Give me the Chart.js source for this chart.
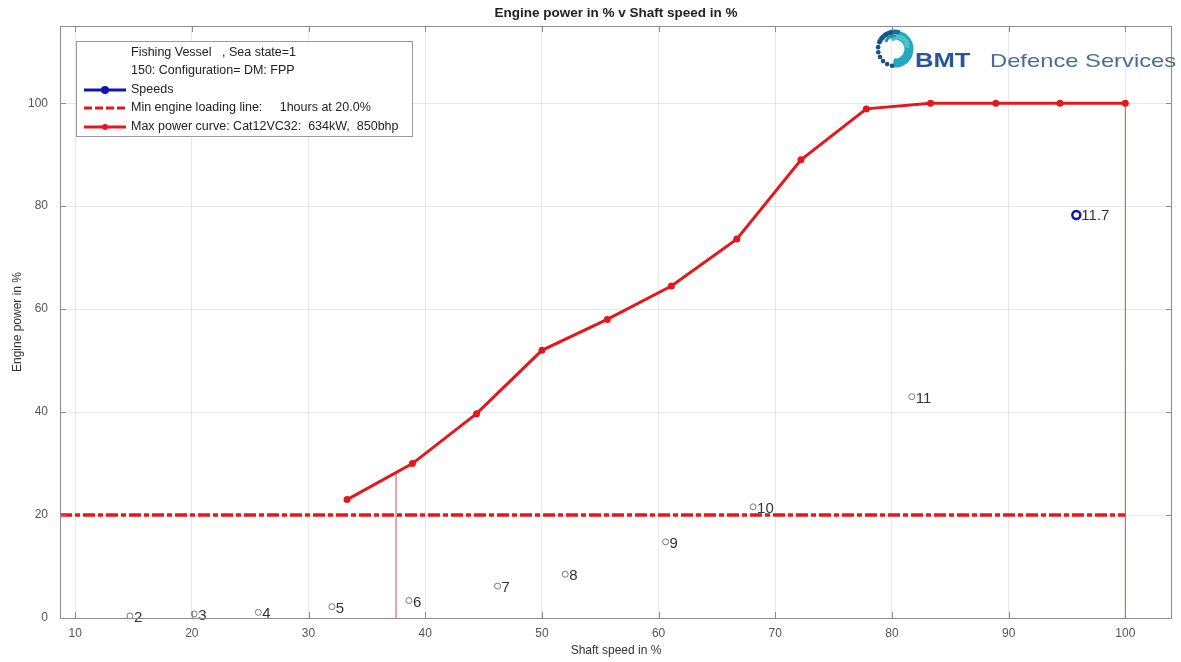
<!DOCTYPE html>
<html>
<head>
<meta charset="utf-8">
<script src="https://cdn.jsdelivr.net/npm/chart.js@4/dist/chart.umd.min.js"></script>
<style>
  body { margin: 0; background: #fff; }
  #chartBox { width: 1181px; height: 662px; }
</style>
</head>
<body>
<div id="chartBox"><canvas id="powerChart" width="1181" height="662"></canvas></div>
<script>
// axis ticks
const xTicks = [10, 20, 30, 40, 50, 60, 70, 80, 90, 100]
const yTicks = [0, 20, 40, 60, 80, 100]

// max power curve (Cat12VC32)
const curveX = [33.3, 38.9, 44.4, 50.0, 55.6, 61.1, 66.7, 72.2, 77.8, 83.3, 88.9, 94.4, 100]
const curveY = [23.0, 30.0, 39.7, 52.0, 58.0, 64.5, 73.6, 89.0, 98.9, 100, 100, 100, 100]

// min engine loading line
const minLineX = [8.7, 100]
const minLineY = [20, 20]

// vertical markers
const vLine1X = [37.5, 37.5]
const vLine1Y = [0, 28.3]
const vLine2X = [100, 100]
const vLine2Y = [0, 100]

// speed points (knots)
const speedLabels = ['2', '3', '4', '5', '6', '7', '8', '9', '10', '11']
const speedX = [14.7, 20.2, 25.7, 32.0, 38.6, 46.2, 52.0, 60.6, 68.1, 81.7]
const speedY = [0.4, 0.8, 1.1, 2.2, 3.4, 6.2, 8.5, 14.8, 21.6, 43.0]

const designLabel = ['11.7']
const designX = [95.8]
const designY = [78.3]

const legendLines = [
    'Fishing Vessel   , Sea state=1',
    '150: Configuration= DM: FPP'
]
const legendNames = [
    'Speeds',
    'Min engine loading line:     1hours at 20.0%',
    'Max power curve: Cat12VC32:  634kW,  850bhp'
]

const RED = '#e3171c'
const BLUE = '#1016b0'
const FONT = '"Liberation Sans", Arial, sans-serif'

function pts(xs, ys) {
    return xs.map((x, i) => ({ x: x, y: ys[i] }))
}

// point labels, title, frame, inward ticks, legend, logo
const decorations = {
    id: 'decorations',
    afterDatasetsDraw(chart) {
        const ctx = chart.ctx
        ctx.save()
        ctx.fillStyle = '#333'
        ctx.textBaseline = 'middle'
        ctx.textAlign = 'left'
        ctx.font = '15px ' + FONT
        const m1 = chart.getDatasetMeta(4)
        m1.data.forEach((p, i) => ctx.fillText(speedLabels[i], p.x + 4, p.y + 2))
        const m2 = chart.getDatasetMeta(5)
        m2.data.forEach((p, i) => ctx.fillText(designLabel[i], p.x + 5, p.y + 1))
        ctx.restore()
    },
    afterDraw(chart) {
        const ctx = chart.ctx
        const a = chart.chartArea
        const xs = chart.scales.x
        const ys = chart.scales.y
        ctx.save()

        // frame
        ctx.strokeStyle = '#8c8c8c'
        ctx.lineWidth = 1
        ctx.strokeRect(a.left + 0.5, a.top + 0.5, a.right - a.left - 1, a.bottom - a.top)

        // inward ticks
        ctx.beginPath()
        xTicks.forEach(v => {
            const px = Math.round(xs.getPixelForValue(v)) + 0.5
            ctx.moveTo(px, a.bottom); ctx.lineTo(px, a.bottom - 6)
            ctx.moveTo(px, a.top); ctx.lineTo(px, a.top + 6)
        })
        yTicks.forEach(v => {
            const py = Math.round(ys.getPixelForValue(v)) + 0.5
            ctx.moveTo(a.left, py); ctx.lineTo(a.left + 6, py)
            ctx.moveTo(a.right, py); ctx.lineTo(a.right - 6, py)
        })
        ctx.stroke()

        // title
        ctx.fillStyle = '#222'
        ctx.font = 'bold 13.5px ' + FONT
        ctx.textAlign = 'center'
        ctx.textBaseline = 'middle'
        ctx.fillText('Engine power in % v Shaft speed in %', (a.left + a.right) / 2, 13)

        // legend
        const bx = 76, by = 41, bw = 336, bh = 95
        ctx.fillStyle = '#fff'
        ctx.fillRect(bx, by, bw, bh)
        ctx.strokeStyle = '#9a9a9a'
        ctx.strokeRect(bx + 0.5, by + 0.5, bw, bh)
        ctx.font = '12.5px ' + FONT
        ctx.textAlign = 'left'
        ctx.fillStyle = '#222'
        const rowY = [53, 71, 90, 108, 127]
        ctx.fillText(legendLines[0], 131, rowY[0])
        ctx.fillText(legendLines[1], 131, rowY[1])
        legendNames.forEach((t, i) => ctx.fillText(t, 131, rowY[i + 2]))
        // samples
        ctx.lineWidth = 3
        ctx.strokeStyle = BLUE
        ctx.beginPath(); ctx.moveTo(84, rowY[2]); ctx.lineTo(126, rowY[2]); ctx.stroke()
        ctx.fillStyle = BLUE
        ctx.beginPath(); ctx.arc(105, rowY[2], 4, 0, Math.PI * 2); ctx.fill()
        ctx.strokeStyle = RED
        ctx.setLineDash([8, 3])
        ctx.beginPath(); ctx.moveTo(84, rowY[3]); ctx.lineTo(126, rowY[3]); ctx.stroke()
        ctx.setLineDash([])
        ctx.beginPath(); ctx.moveTo(84, rowY[4]); ctx.lineTo(126, rowY[4]); ctx.stroke()
        ctx.fillStyle = RED
        ctx.beginPath(); ctx.arc(105, rowY[4], 3, 0, Math.PI * 2); ctx.fill()

        drawLogo(ctx)
        ctx.restore()
    }
}

function drawLogo(ctx) {
    const cx = 895, cy = 49
    // swirl icon
    ctx.lineCap = 'butt'
    ctx.lineWidth = 9
    ctx.strokeStyle = '#22a9bd'
    ctx.beginPath(); ctx.arc(cx, cy, 14, -1.4, 1.7); ctx.stroke()
    ctx.lineWidth = 5
    ctx.strokeStyle = '#1a6f9e'
    ctx.beginPath(); ctx.arc(cx, cy, 17, -2.7, -1.3); ctx.stroke()
    ctx.strokeStyle = '#4cc2c9'
    ctx.beginPath(); ctx.arc(cx + 3, cy - 3, 9, -2.4, 0.2); ctx.stroke()
    ctx.strokeStyle = '#2a8fb0'
    ctx.lineWidth = 3
    ctx.beginPath(); ctx.arc(cx - 2, cy - 6, 7, -3.0, -1.2); ctx.stroke()
    ctx.fillStyle = '#1b4f7e'
    for (let i = 0; i < 10; i++) {
        const ang = 1.75 + i * 0.3
        ctx.beginPath()
        ctx.arc(cx + Math.cos(ang) * 17, cy + Math.sin(ang) * 17, 2.3, 0, Math.PI * 2)
        ctx.fill()
    }
    // text
    ctx.textAlign = 'left'
    ctx.textBaseline = 'alphabetic'
    ctx.save()
    ctx.translate(915, 67)
    ctx.scale(1.28, 1)
    ctx.fillStyle = '#27569a'
    ctx.font = 'bold 20px ' + FONT
    ctx.fillText('BMT', 0, 0)
    ctx.restore()
    ctx.save()
    ctx.translate(990, 67)
    ctx.scale(1.25, 1)
    ctx.fillStyle = '#4a6d98'
    ctx.font = '19px ' + FONT
    ctx.fillText('Defence Services', 0, 0)
    ctx.restore()
}

const chartConfig = {
    type: 'scatter',
    data: {
        datasets: [{
            label: 'vLine1',
            data: pts(vLine1X, vLine1Y),
            showLine: true,
            borderColor: 'rgba(200,50,50,0.85)',
            borderWidth: 1,
            pointRadius: 0
        }, {
            label: 'vLine2',
            data: pts(vLine2X, vLine2Y),
            showLine: true,
            borderColor: 'rgba(200,50,50,0.85)',
            borderWidth: 1,
            pointRadius: 0
        }, {
            label: legendNames[1],
            data: pts(minLineX, minLineY),
            showLine: true,
            borderColor: RED,
            borderWidth: 3.5,
            borderDash: [12, 3, 5, 3],
            pointRadius: 0
        }, {
            label: legendNames[2],
            data: pts(curveX, curveY),
            showLine: true,
            borderColor: RED,
            borderWidth: 3,
            pointRadius: 2,
            pointBackgroundColor: RED,
            pointBorderColor: RED
        }, {
            label: 'speed points',
            data: pts(speedX, speedY),
            pointRadius: 3,
            pointBorderWidth: 1,
            pointBorderColor: '#777',
            pointBackgroundColor: 'rgba(255,255,255,0)'
        }, {
            label: legendNames[0],
            data: pts(designX, designY),
            pointRadius: 4,
            pointBorderWidth: 2.5,
            pointBorderColor: BLUE,
            pointBackgroundColor: '#fff'
        }]
    },
    options: {
        responsive: false,
        animation: false,
        layout: {
            padding: { left: 0, top: 26, right: 9, bottom: 0 }
        },
        plugins: {
            legend: { display: false },
            title: { display: false },
            tooltip: { enabled: false }
        },
        scales: {
            x: {
                type: 'linear',
                min: 8.7,
                max: 104,
                afterFit: (s) => { s.height = 44 },
                afterBuildTicks: (s) => { s.ticks = xTicks.map(v => ({ value: v })) },
                grid: { color: 'rgba(0,0,0,0.09)', drawTicks: false },
                border: { display: false },
                ticks: {
                    padding: 8,
                    color: '#555',
                    font: { family: FONT, size: 12 }
                },
                title: {
                    display: true,
                    text: 'Shaft speed in %',
                    color: '#333',
                    padding: { top: 4, bottom: 4 },
                    font: { family: FONT, size: 12 }
                }
            },
            y: {
                type: 'linear',
                min: 0,
                max: 115,
                afterFit: (s) => { s.width = 60 },
                afterBuildTicks: (s) => { s.ticks = yTicks.map(v => ({ value: v })) },
                grid: { color: 'rgba(0,0,0,0.09)', drawTicks: false },
                border: { display: false },
                ticks: {
                    padding: 12,
                    color: '#555',
                    font: { family: FONT, size: 12 }
                },
                title: {
                    display: true,
                    text: 'Engine power in %',
                    color: '#333',
                    padding: { top: 10, bottom: 0 },
                    font: { family: FONT, size: 12 }
                }
            }
        }
    },
    plugins: [decorations]
}

const chart = new Chart(document.getElementById('powerChart'), chartConfig)
</script>
</body>
</html>
